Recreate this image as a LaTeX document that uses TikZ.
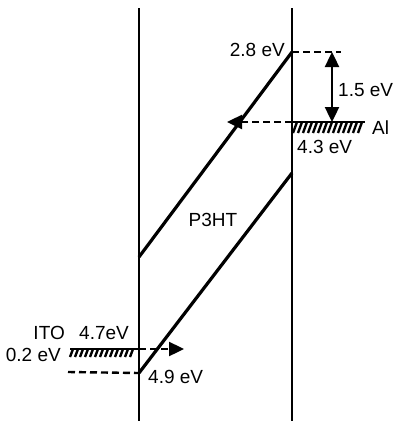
\documentclass[tikz,border=0pt]{standalone}
\usepackage{fontspec}
\setmainfont{Liberation Sans}
\usetikzlibrary{arrows.meta,positioning,calc}
\tikzset{
  wall/.style={line width=2.8pt},
  band/.style={line width=3.2pt},
  lvl/.style={line width=2.4pt, dash pattern=on 7pt off 4pt},
  hatch/.style={line width=2.4pt},
  fatarr/.style={-{Triangle[length=15pt,width=14pt]}},
  dblarr/.style={line width=2.4pt, {Triangle[length=15pt,width=14pt]}-{Triangle[length=15pt,width=14pt]}},
  lbl/.style={font=\fontsize{19}{22}\selectfont, inner sep=0pt},
}

\begin{document}
\begin{tikzpicture}[x=1pt, y=-1pt]
  \useasboundingbox (0,0) rectangle (394,421);

  % interfaces
  \coordinate (ltop) at (139,8);   \coordinate (lbot) at (139,421);
  \coordinate (rtop) at (292,8);   \coordinate (rbot) at (292,421);
  \draw[wall] (ltop) -- (lbot);
  \draw[wall] (rtop) -- (rbot);

  % P3HT bands
  \coordinate (lumoL) at (139,257); \coordinate (lumoR) at (292,52);
  \coordinate (homoL) at (139,373); \coordinate (homoR) at (292,173);
  \draw[band] (lumoL) -- (lumoR);
  \draw[band] (homoL) -- (homoR);

  % Al side
  \coordinate (topend) at (341,52);
  \draw[lvl] (lumoR) -- (topend);
  \coordinate (alL) at (292,122); \coordinate (alR) at (365,122);
  \draw[wall] (alL) -- (alR);
  \foreach \x in {293,298,...,358}
    \draw[hatch] (\x,133) -- ++(4,-11);
  \coordinate (upA) at (332,52); \coordinate (upB) at (332,122);
  \draw[dblarr] (upA) -- (upB);
  \coordinate (alTip) at (227,122);
  \draw[lvl, fatarr] (alL) -- (alTip);

  % ITO side
  \coordinate (itoL) at (70,349); \coordinate (itoR) at (139,349);
  \draw[wall] (itoL) -- (itoR);
  \foreach \x in {70,75,...,133}
    \draw[hatch] (\x,357) -- ++(3,-8);
  \coordinate (itoTip) at (184,349);
  \draw[lvl, fatarr] (itoR) -- (itoTip);
  \coordinate (homoEnd) at (68,372);
  \draw[lvl] (homoEnd) -- (homoL);

  % labels
  \node[lbl, anchor=east] (e28) at (285,50) {2.8 eV};
  \node[lbl, anchor=west] (e15) at (338,90) {1.5 eV};
  \node[lbl, anchor=west] (al) at (372,128) {Al};
  \node[lbl, anchor=west] (e43) at (297,147) {4.3 eV};
  \node[lbl] (p3ht) at (213,220) {P3HT};
  \node[lbl, anchor=east] (ito) at (65,333) {ITO};
  \node[lbl, anchor=west] (e47) at (79,333) {4.7eV};
  \node[lbl, anchor=east] (e02) at (61,355) {0.2 eV};
  \node[lbl, anchor=west] (e49) at (148,377) {4.9 eV};
\end{tikzpicture}
\end{document}
